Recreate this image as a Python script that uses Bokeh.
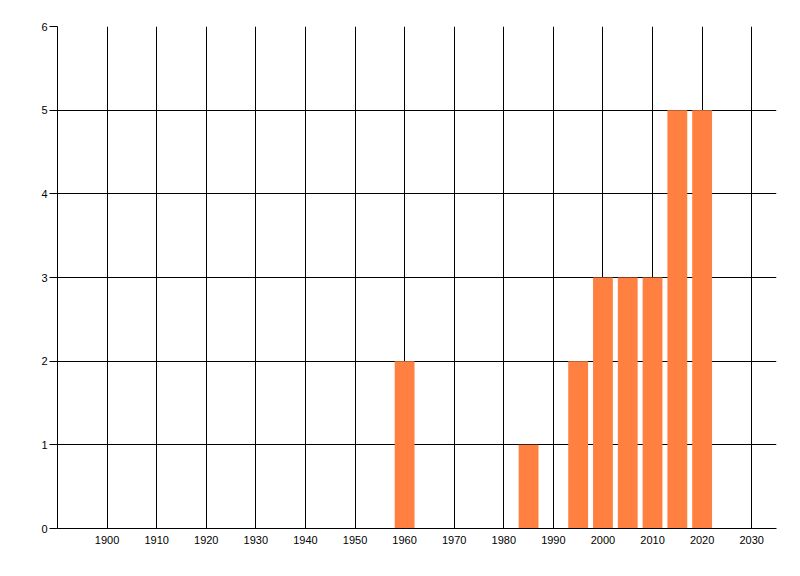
from bokeh.plotting import figure
from bokeh.models import FixedTicker, Range1d
from bokeh.embed import file_html
from bokeh.resources import INLINE

# data
years = [1960, 1985, 1995, 2000, 2005, 2010, 2015, 2020]
counts = [2, 1, 2, 3, 3, 3, 5, 5]
x_ticks = list(range(1900, 2031, 10))
y_ticks = [0, 1, 2, 3, 4, 5, 6]

p = figure(width=800, height=576, output_backend="svg", toolbar_location=None,
           x_range=Range1d(1890, 2035), y_range=Range1d(0, 6),
           min_border_left=57, min_border_right=24, min_border_top=26, min_border_bottom=48)
p.outline_line_color = None
p.background_fill_color = "white"
p.border_fill_color = "white"

p.vbar(x=years, top=counts, bottom=0, width=4, fill_color="#FF8040", line_color=None)

p.xaxis.ticker = FixedTicker(ticks=x_ticks)
p.yaxis.ticker = FixedTicker(ticks=y_ticks)
for ax in (p.xaxis, p.yaxis):
    ax.axis_line_color = "black"
    ax.axis_line_width = 1
    ax.major_label_text_font = "Liberation Sans"
    ax.major_label_text_font_size = "11px"
    ax.major_label_text_color = "black"
    ax.minor_tick_line_color = None
    ax.major_tick_in = 0

p.xaxis.major_tick_out = 0
p.xaxis.major_label_standoff = 7
p.yaxis.major_tick_out = 8
p.yaxis.major_tick_line_color = "black"
p.yaxis.major_label_standoff = 2

for g in (p.xgrid, p.ygrid):
    g.grid_line_color = "black"
    g.grid_line_width = 1
    g.grid_line_alpha = 1

open("out.html", "w").write(file_html(p, INLINE))
